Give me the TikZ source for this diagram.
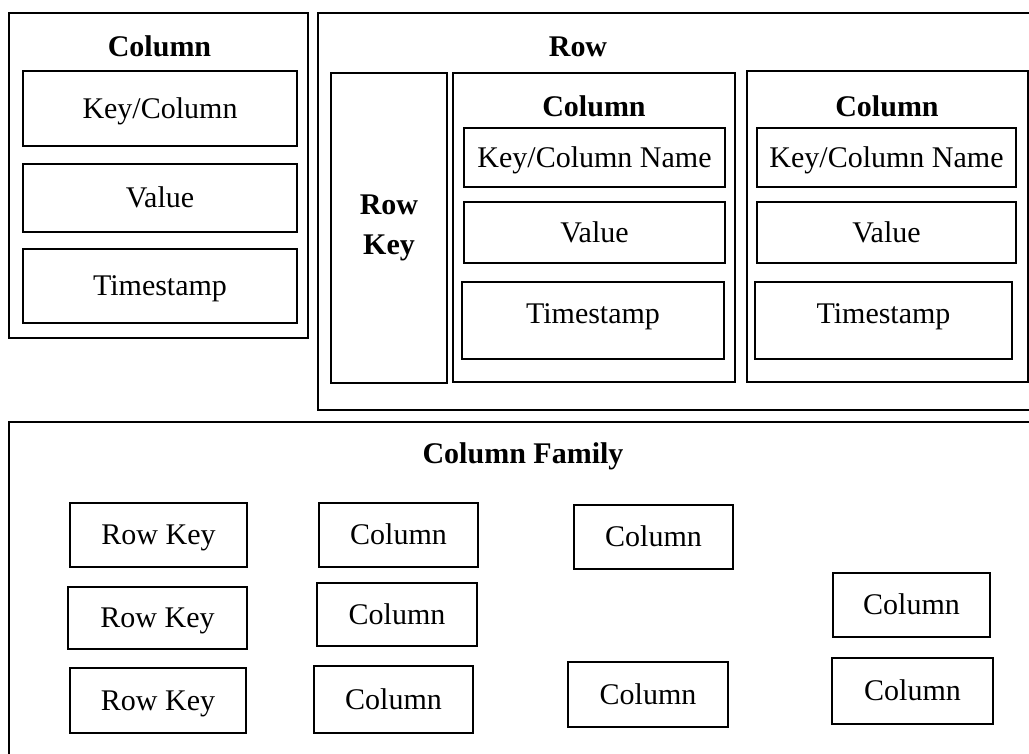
\documentclass[tikz,border=0pt]{standalone}
\usepackage{fontspec}
\setmainfont{Liberation Serif}
\begin{document}
\begin{tikzpicture}[x=1pt,y=-1pt,
  every node/.style={inner sep=0pt,outer sep=0pt,font=\fontsize{30}{34}\selectfont,
    text height=19.8pt,text depth=0pt},
  cell/.style={draw=black,line width=2.9pt,fill=white,minimum width=#1},
  cell/.default=100pt,
  ttl/.style={font=\fontsize{30}{34}\selectfont\bfseries}]
\useasboundingbox (0,0) rectangle (1029,753);
\clip (0,0) rectangle (1029,753);
\fill[white] (0,0) rectangle (1029,753);

% single column
\node[cell=299pt,minimum height=325pt] (colbox) at (158.5,175.5) {};
\node[ttl] (coltitle) at (159.5,47) {Column};
\node[cell=274pt,minimum height=75pt] (colkey) at (160,108.5) {Key/Column};
\node[cell=274pt,minimum height=68pt] (colval) at (160,198) {Value};
\node[cell=274pt,minimum height=74pt] (colts) at (160,286) {Timestamp};

% row
\node[cell=727pt,minimum height=397pt] (rowbox) at (681.5,211.5) {};
\node[ttl] (rowtitle) at (578,47) {Row};
\node[cell=116pt,minimum height=310pt] (rowkey) at (389,228) {};
\node[ttl] (rowkeya) at (389,205) {Row};
\node[ttl] (rowkeyb) at (389,245) {Key};

\node[cell=282pt,minimum height=309pt] (rcola) at (594,227.5) {};
\node[ttl] (rcolatitle) at (594,107) {Column};
\node[cell=261pt,minimum height=59pt] (rcolakey) at (594.5,157.5) {Key/Column Name};
\node[cell=261pt,minimum height=61pt] (rcolaval) at (594.5,232.5) {Value};
\node[cell=262pt,minimum height=77pt,text depth=13pt] (rcolats) at (593,320.5) {Timestamp};

\node[cell=281pt,minimum height=311pt] (rcolb) at (887.5,226.5) {};
\node[ttl] (rcolbtitle) at (887,107) {Column};
\node[cell=259pt,minimum height=59pt] (rcolbkey) at (886.5,157.5) {Key/Column Name};
\node[cell=259pt,minimum height=61pt] (rcolbval) at (886.5,232.5) {Value};
\node[cell=257pt,minimum height=77pt,text depth=13pt] (rcolbts) at (883.5,320.5) {Timestamp};

% column family
\node[cell=1036pt,minimum height=343pt] (family) at (527,593.5) {};
\node[ttl] (familytitle) at (523,454) {Column Family};

\node[cell=177pt,minimum height=64pt] (rk1) at (158.5,535) {Row Key};
\node[cell=179pt,minimum height=62pt] (rk2) at (157.5,618) {Row Key};
\node[cell=176pt,minimum height=65pt] (rk3) at (158,700.5) {Row Key};

\node[cell=159pt,minimum height=64pt] (ca1) at (398.5,535) {Column};
\node[cell=160pt,minimum height=63pt] (ca2) at (397,614.5) {Column};
\node[cell=159pt,minimum height=67pt] (ca3) at (393.5,699.5) {Column};

\node[cell=159pt,minimum height=64pt] (cb1) at (653.5,537) {Column};
\node[cell=160pt,minimum height=65pt] (cb3) at (648,694.5) {Column};

\node[cell=157pt,minimum height=64pt] (cc1) at (911.5,605) {Column};
\node[cell=161pt,minimum height=66pt] (cc2) at (912.5,691) {Column};
\end{tikzpicture}
\end{document}
